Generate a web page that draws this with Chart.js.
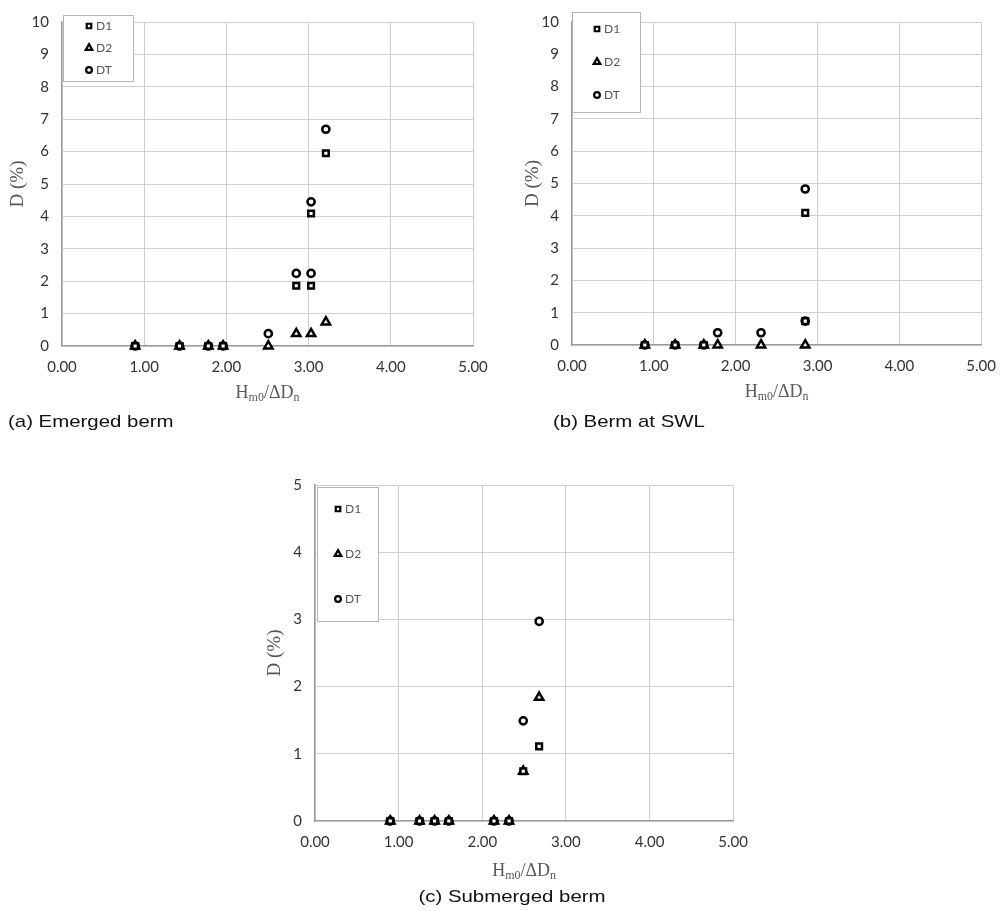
<!DOCTYPE html>
<html>
<head>
<meta charset="utf-8">
<title>D (%) vs Hm0/ΔDn</title>
<script src="https://cdn.jsdelivr.net/npm/chart.js@4.4.1/dist/chart.umd.min.js"></script>
<style>
  html, body { margin: 0; padding: 0; background: #fff; }
  #page { position: relative; width: 1008px; height: 911px; overflow: hidden; }
  .panel { position: absolute; }
  .caption {
    position: absolute;
    font-family: "Liberation Sans", Arial, sans-serif;
    font-size: 17px;
    line-height: 20px;
    color: #111;
    white-space: nowrap;
    transform-origin: left center;
    transform: scaleX(1.2);
  }
  #capC { transform-origin: center center; transform: translateX(-50%) scaleX(1.2); }
</style>
</head>
<body>
<div id="page">
  <div class="panel" style="left:0px;top:0px"><canvas id="chartA" width="500" height="440"></canvas></div>
  <div class="panel" style="left:500px;top:0px"><canvas id="chartB" width="508" height="440"></canvas></div>
  <div class="panel" style="left:240px;top:440px"><canvas id="chartC" width="520" height="471"></canvas></div>
  <div class="caption" style="left:8px;top:412px">(a) Emerged berm</div>
  <div class="caption" style="left:553px;top:412px">(b) Berm at SWL</div>
  <div class="caption" id="capC" style="left:512px;top:887px">(c) Submerged berm</div>
</div>

<script>
/* data: x = Hm0/ΔDn, y = D (%) */
var seriesNames = ["D1", "D2", "DT"];
var xTickLabels = ["0.00", "1.00", "2.00", "3.00", "4.00", "5.00"];

// (a) Emerged berm
var aD1x = [0.89, 1.43, 1.78, 1.96, 2.85, 3.03, 3.03, 3.21];
var aD1y = [0, 0, 0, 0, 1.86, 1.86, 4.09, 5.95];
var aD2x = [0.89, 1.43, 1.78, 1.96, 2.51, 2.85, 3.03, 3.21];
var aD2y = [0, 0, 0, 0, 0, 0.38, 0.38, 0.74];
var aDTx = [0.89, 1.43, 1.78, 1.96, 2.51, 2.85, 3.03, 3.03, 3.21];
var aDTy = [0, 0, 0, 0, 0.38, 2.24, 2.24, 4.45, 6.69];

// (b) Berm at SWL
var bD1x = [0.89, 1.26, 1.61, 2.85, 2.85];
var bD1y = [0, 0, 0, 4.09, 0.74];
var bD2x = [0.89, 1.26, 1.61, 1.78, 2.31, 2.85];
var bD2y = [0, 0, 0, 0, 0, 0];
var bDTx = [0.89, 1.26, 1.61, 1.78, 2.31, 2.85, 2.85];
var bDTy = [0, 0, 0, 0.38, 0.38, 4.83, 0.74];

// (c) Submerged berm
var cD1x = [0.90, 1.25, 1.43, 1.60, 2.14, 2.32, 2.49, 2.68];
var cD1y = [0, 0, 0, 0, 0, 0, 0.74, 1.11];
var cD2x = [0.90, 1.25, 1.43, 1.60, 2.14, 2.32, 2.49, 2.68];
var cD2y = [0, 0, 0, 0, 0, 0, 0.74, 1.84];
var cDTx = [0.90, 1.25, 1.43, 1.60, 2.14, 2.32, 2.49, 2.68];
var cDTy = [0, 0, 0, 0, 0, 0, 1.49, 2.97];

var yMaxA = 10, yMaxB = 10, yMaxC = 5;

function toPoints(xs, ys) {
  var pts = [];
  for (var i = 0; i < xs.length; i++) {
    pts.push({ x: xs[i], y: ys[i] });
  }
  return pts;
}

// marker look per series
var markStyle = [
  { pointStyle: "rect", radius: 4 },
  { pointStyle: "triangle", radius: 4.8 },
  { pointStyle: "circle", radius: 3.6 },
];

/* page layout (page pixels) */
var PANELS = [
  {
    id: "chartA", left: 0, top: 0, w: 500, h: 440, yMax: yMaxA,
    plot: { l: 62, r: 473, t: 15, b: 346 }, yTitleX: 18, xTitleY: 392,
    legend: { x: 63, y: 15, w: 70, h: 66, markX: 89, textX: 96, rows: [26, 48, 70] },
    series: [toPoints(aD1x, aD1y), toPoints(aD2x, aD2y), toPoints(aDTx, aDTy)],
  },
  {
    id: "chartB", left: 500, top: 0, w: 508, h: 440, yMax: yMaxB,
    plot: { l: 572, r: 990, t: 12, b: 345 }, yTitleX: 533, xTitleY: 391,
    legend: { x: 572, y: 12, w: 68, h: 100, markX: 597, textX: 604, rows: [29, 62, 95] },
    series: [toPoints(bD1x, bD1y), toPoints(bD2x, bD2y), toPoints(bDTx, bDTy)],
  },
  {
    id: "chartC", left: 240, top: 440, w: 520, h: 471, yMax: yMaxC,
    plot: { l: 315, r: 735, t: 485, b: 821 }, yTitleX: 275, xTitleY: 870,
    legend: { x: 317, y: 487, w: 61, h: 134, markX: 338, textX: 345, rows: [509, 554, 599] },
    series: [toPoints(cD1x, cD1y), toPoints(cD2x, cD2y), toPoints(cDTx, cDTy)],
  },
];

function drawMark(ctx, style, r, x, y) {
  ctx.beginPath();
  if (style === "rect") {
    var s = r * Math.SQRT1_2;
    ctx.rect(x - s, y - s, 2 * s, 2 * s);
  } else if (style === "triangle") {
    ctx.moveTo(x, y - r);
    ctx.lineTo(x + r * 0.866, y + r * 0.5);
    ctx.lineTo(x - r * 0.866, y + r * 0.5);
    ctx.closePath();
  } else {
    ctx.arc(x, y, r, 0, Math.PI * 2);
  }
  ctx.fill();
  ctx.stroke();
}

/** legend box sitting inside the plot, top-left */
var boxLegend = {
  id: "boxLegend",
  afterDatasetsDraw: function (chart, args, opts) {
    var b = opts.box;
    if (!b) return;
    var ctx = chart.ctx;
    ctx.save();
    ctx.fillStyle = "#ffffff";
    ctx.fillRect(b.x, b.y, b.w, b.h);
    ctx.strokeStyle = "#b5b5b5";
    ctx.lineWidth = 1;
    ctx.strokeRect(b.x + 0.5, b.y + 0.5, b.w, b.h);
    for (var i = 0; i < seriesNames.length; i++) {
      ctx.fillStyle = "#ffffff";
      ctx.strokeStyle = "#000000";
      ctx.lineWidth = 2.2;
      drawMark(ctx, markStyle[i].pointStyle, markStyle[i].radius * 0.8, b.markX, b.rows[i]);
      ctx.fillStyle = "#555555";
      ctx.font = "12px Lato";
      ctx.textBaseline = "middle";
      ctx.textAlign = "left";
      ctx.fillText(seriesNames[i], b.textX, b.rows[i] + 0.5);
    }
    ctx.restore();
  },
};

/** x title with subscripts: Hm0/ΔDn */
var subTitle = {
  id: "subTitle",
  afterDraw: function (chart, args, opts) {
    if (opts.y === undefined) return;
    var ctx = chart.ctx;
    var parts = [
      { t: "H", big: true }, { t: "m0", big: false },
      { t: "/ΔD", big: true }, { t: "n", big: false },
    ];
    var bigFont = "18px 'Liberation Serif', 'Times New Roman', serif";
    var smallFont = "12px 'Liberation Serif', 'Times New Roman', serif";
    ctx.save();
    var total = 0;
    parts.forEach(function (p) {
      ctx.font = p.big ? bigFont : smallFont;
      p.w = ctx.measureText(p.t).width;
      total += p.w;
    });
    var x = (chart.chartArea.left + chart.chartArea.right) / 2 - total / 2;
    ctx.fillStyle = "#595959";
    ctx.textBaseline = "alphabetic";
    ctx.textAlign = "left";
    parts.forEach(function (p) {
      ctx.font = p.big ? bigFont : smallFont;
      ctx.fillText(p.t, x, opts.y + (p.big ? 6 : 9));
      x += p.w;
    });
    ctx.restore();
  },
};

window.addEventListener("DOMContentLoaded", function () {
  PANELS.forEach(function (pn) {
    var ctx = document.getElementById(pn.id);

    var datasets = pn.series.map(function (pts, i) {
      return {
        label: seriesNames[i],
        data: pts,
        pointStyle: markStyle[i].pointStyle,
        pointRadius: markStyle[i].radius,
        pointHoverRadius: markStyle[i].radius,
        pointBorderWidth: 2.5,
        pointBorderColor: "#000000",
        pointBackgroundColor: "#ffffff",
        showLine: false,
        clip: false,
      };
    });

    var yWidth = pn.plot.l - pn.left;
    var xHeight = pn.top + pn.h - pn.plot.b;

    new Chart(ctx, {
      type: "scatter",
      data: { datasets: datasets },
      plugins: [boxLegend, subTitle],
      options: {
        responsive: false,
        animation: false,
        events: [],
        layout: {
          padding: {
            left: 0,
            top: pn.plot.t - pn.top,
            right: pn.left + pn.w - pn.plot.r,
            bottom: 0,
          },
        },
        plugins: {
          legend: { display: false },
          tooltip: { enabled: false },
          boxLegend: {
            box: {
              x: pn.legend.x - pn.left, y: pn.legend.y - pn.top,
              w: pn.legend.w, h: pn.legend.h,
              markX: pn.legend.markX - pn.left, textX: pn.legend.textX - pn.left,
              rows: pn.legend.rows.map(function (r) { return r - pn.top; }),
            },
          },
          subTitle: { y: pn.xTitleY - pn.top },
        },
        scales: {
          x: {
            type: "linear",
            min: 0,
            max: 5,
            afterFit: function (scale) { scale.height = xHeight; },
            ticks: {
              stepSize: 1,
              autoSkip: false,
              maxRotation: 0,
              padding: 12,
              color: "#333333",
              font: { family: "Lato", size: 15 },
              callback: function (v, idx) { return xTickLabels[idx]; },
            },
            grid: { color: "#cfcfcf", lineWidth: 1, drawTicks: false },
            border: { color: "#9a9a9a", width: 1.3 },
          },
          y: {
            type: "linear",
            min: 0,
            max: pn.yMax,
            afterFit: function (scale) { scale.width = yWidth; },
            ticks: {
              stepSize: 1,
              padding: 13,
              color: "#333333",
              font: { family: "Lato", size: 15 },
            },
            grid: { color: "#cfcfcf", lineWidth: 1, drawTicks: false },
            border: { color: "#9a9a9a", width: 1.3 },
            title: {
              display: true,
              text: "D (%)",
              color: "#555555",
              font: { family: "'Liberation Serif', 'Times New Roman', serif", size: 19 },
              padding: { top: pn.yTitleX - pn.left - 11.4, bottom: 0 },
            },
          },
        },
      },
    });
  });
});
</script>
</body>
</html>
